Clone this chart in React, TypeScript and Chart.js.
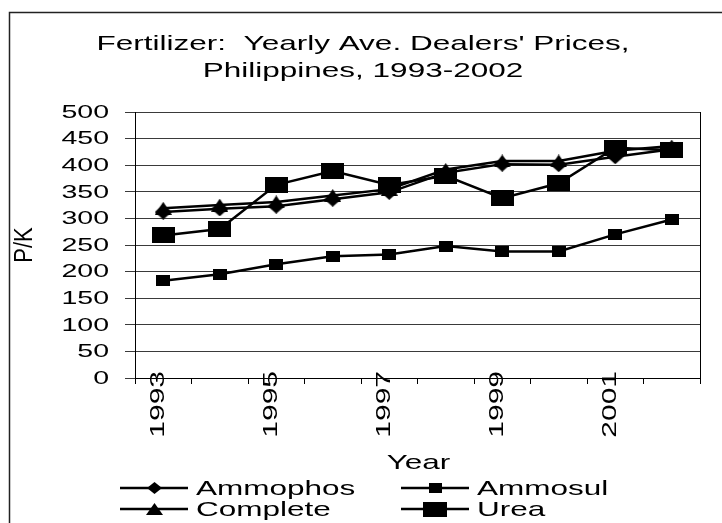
import React, { useEffect, useRef } from 'react';
import { Chart, registerables } from 'chart.js';

Chart.register(...registerables);

// ---- data ----
const years = ['1993', '1994', '1995', '1996', '1997', '1998', '1999', '2000', '2001', '2002'];
const yearLabelsShown = ['1993', '1995', '1997', '1999', '2001'];
const ammophos = [312, 318, 323, 336, 349, 386, 402, 401, 416, 430];
const ammosul = [183, 195, 214, 229, 232, 248, 238, 238, 270, 298];
const complete = [319, 325, 331, 343, 355, 392, 408, 408, 427, 436];
const urea = [268, 280, 363, 389, 363, 380, 338, 366, 433, 428];
const yTickValues = [0, 50, 100, 150, 200, 250, 300, 350, 400, 450, 500];
const titleLines = ["Fertilizer:  Yearly Ave. Dealers' Prices,", 'Philippines, 1993-2002'];
const seriesNames = ['Ammophos', 'Ammosul', 'Complete', 'Urea'];
const xTitle = 'Year';
const yTitle = 'P/K';

const FONT = '"Liberation Sans", Arial, sans-serif';
const SX = 1.5;

type Shape = 'diamond' | 'triangle' | 'rect';
function makeMarker(shape: Shape, w: number, h: number): HTMLCanvasElement {
  const c = document.createElement('canvas');
  c.width = w;
  c.height = h;
  const g = c.getContext('2d')!;
  g.fillStyle = '#000';
  g.beginPath();
  if (shape === 'diamond') {
    g.moveTo(w / 2, 0);
    g.lineTo(w, h / 2);
    g.lineTo(w / 2, h);
    g.lineTo(0, h / 2);
  } else if (shape === 'triangle') {
    g.moveTo(w / 2, 0);
    g.lineTo(w, h);
    g.lineTo(0, h);
  } else {
    g.rect(0, 0, w, h);
  }
  g.closePath();
  g.fill();
  return c;
}

function drawText(
  ctx: CanvasRenderingContext2D,
  text: string,
  x: number,
  y: number,
  size: number,
  align: CanvasTextAlign,
  baseline: CanvasTextBaseline,
  rot: number,
  sx: number,
  sy: number
) {
  ctx.save();
  ctx.translate(x, y);
  if (rot) ctx.rotate(rot);
  ctx.scale(sx, sy);
  ctx.font = `${size}px ${FONT}`;
  ctx.textAlign = align;
  ctx.textBaseline = baseline;
  ctx.fillStyle = '#000';
  ctx.fillText(text, 0, 0);
  ctx.restore();
}

export default function App() {
  const ref = useRef<HTMLCanvasElement>(null);

  useEffect(() => {
    const canvas = ref.current;
    if (!canvas) return;

    const dataMarkers = [
      makeMarker('diamond', 17, 15),
      makeMarker('rect', 14, 11),
      makeMarker('triangle', 17, 13),
      makeMarker('rect', 23, 16),
    ];
    const legendMarkers = [
      makeMarker('diamond', 15, 12),
      makeMarker('rect', 13, 10),
      makeMarker('triangle', 17, 12),
      makeMarker('rect', 24, 15),
    ];
    const seriesValues = [ammophos, ammosul, complete, urea];
    const drawOrder = [1, 3, 2, 0];

    const textPlugin = {
      id: 'excelText',
      afterDraw(chart: any) {
        const ctx: CanvasRenderingContext2D = chart.ctx;
        const { left, right, top, bottom } = chart.chartArea;
        const xs = chart.scales.x;
        const ys = chart.scales.y;
        ctx.save();
        // outer chart border
        ctx.strokeStyle = '#222';
        ctx.lineWidth = 1.5;
        ctx.beginPath();
        ctx.moveTo(9.5, chart.height);
        ctx.lineTo(9.5, 12.5);
        ctx.lineTo(chart.width, 12.5);
        ctx.stroke();
        // plot right border
        ctx.strokeStyle = '#000';
        ctx.lineWidth = 1;
        const rx = Math.round(right) + 0.5;
        ctx.beginPath();
        ctx.moveTo(rx, Math.round(top));
        ctx.lineTo(rx, Math.round(bottom) + 1);
        ctx.stroke();

        // title
        titleLines.forEach((t, i) => drawText(ctx, t, 363, 50 + i * 27.3, 21, 'center', 'alphabetic', 0, SX, 1));
        // y tick labels
        yTickValues.forEach((v) =>
          drawText(ctx, String(v), 109, ys.getPixelForValue(v) + 0.5, 19, 'right', 'middle', 0, SX, 1)
        );
        // x tick labels (rotated)
        years.forEach((lab, i) => {
          if (!yearLabelsShown.includes(lab)) return;
          drawText(ctx, lab, xs.getPixelForValue(i) + 0.5, 371, 20, 'right', 'alphabetic', -Math.PI / 2, SX, 1);
        });
        // axis titles
        drawText(ctx, xTitle, (left + right) / 2 + 1, 469, 21, 'center', 'alphabetic', 0, SX, 1);
        drawText(ctx, yTitle, 25, (top + bottom) / 2, 22, 'center', 'middle', -Math.PI / 2, 1, 1.2);

        // legend
        const legendCols = [120, 401];
        const legendRows = [488, 509];
        seriesNames.forEach((name, i) => {
          const cx = legendCols[i % 2];
          const cy = legendRows[Math.floor(i / 2)];
          ctx.strokeStyle = '#000';
          ctx.lineWidth = 2.5;
          ctx.beginPath();
          ctx.moveTo(cx, cy);
          ctx.lineTo(cx + 68, cy);
          ctx.stroke();
          const m = legendMarkers[i];
          ctx.drawImage(m, Math.round(cx + 34 - m.width / 2), Math.round(cy - m.height / 2));
          drawText(ctx, name, cx + 76, cy + 1, 21, 'left', 'middle', 0, SX, 1);
        });
        ctx.restore();
      },
    };

    const chart = new Chart(canvas, {
      type: 'line',
      data: {
        labels: years,
        datasets: seriesNames.map((name, i) => ({
          label: name,
          data: seriesValues[i],
          borderColor: '#000',
          backgroundColor: '#000',
          borderWidth: 2.5,
          fill: false,
          tension: 0,
          pointStyle: dataMarkers[i] as any,
          pointRadius: 6,
          pointHoverRadius: 6,
          order: drawOrder[i],
          clip: false as any,
        })),
      },
      options: {
        responsive: false,
        maintainAspectRatio: false,
        devicePixelRatio: 1,
        animation: false,
        events: [],
        layout: { padding: { top: 112, right: 22, left: 0, bottom: 0 } },
        plugins: {
          legend: { display: false },
          title: { display: false },
          tooltip: { enabled: false },
        },
        scales: {
          x: {
            type: 'category',
            offset: true,
            grid: {
              offset: true,
              drawOnChartArea: false,
              drawTicks: true,
              tickLength: 6,
              color: '#000',
              lineWidth: 1,
            },
            border: { display: true, color: '#000', width: 1 },
            ticks: { display: false },
            afterFit: (s: any) => {
              s.height = 145;
            },
          },
          y: {
            min: 0,
            max: 500,
            grid: {
              color: '#3a3a3a',
              lineWidth: 1,
              drawTicks: true,
              tickLength: 10,
            },
            border: { display: true, color: '#000', width: 1 },
            ticks: { display: false, stepSize: 50 },
            afterFit: (s: any) => {
              s.width = 135;
            },
          },
        },
      },
      plugins: [textPlugin],
    });

    return () => chart.destroy();
  }, []);

  return (
    <div style={{ position: 'absolute', left: 0, top: 0, width: 722, height: 523, background: '#fff' }}>
      <canvas ref={ref} width={722} height={523} style={{ width: 722, height: 523, display: 'block' }} />
    </div>
  );
}
